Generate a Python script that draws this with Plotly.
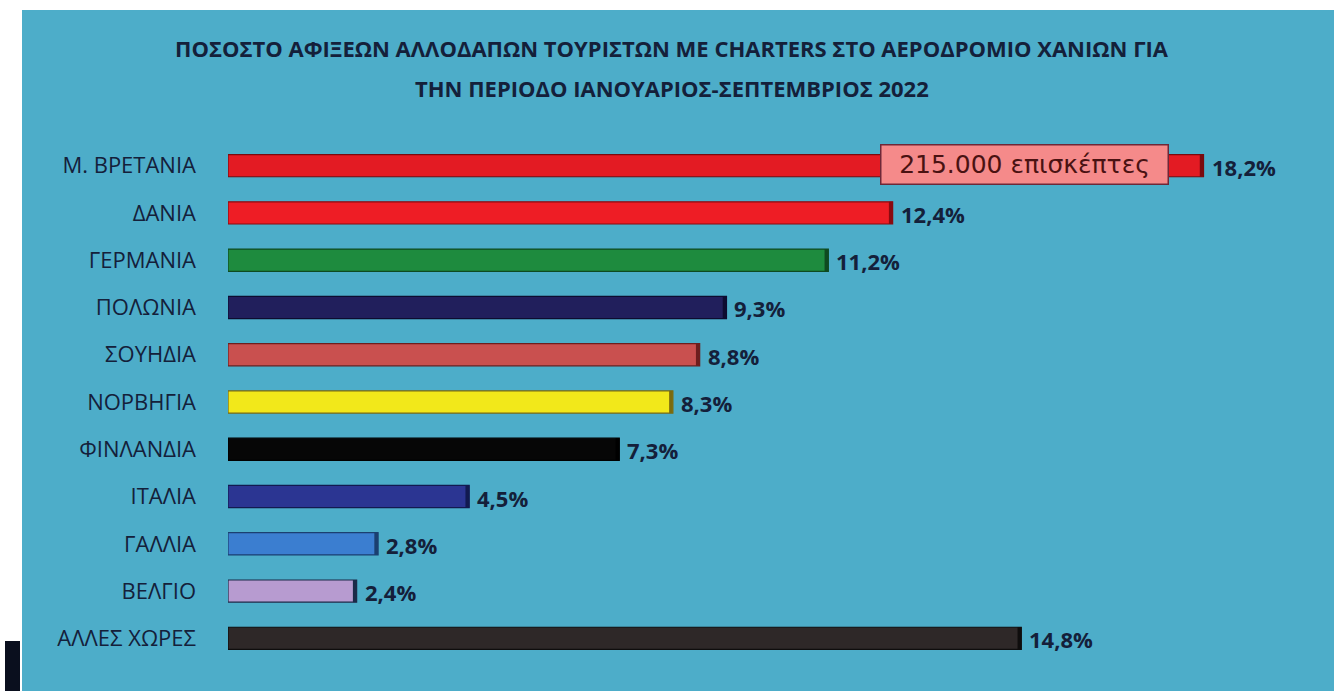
import plotly.graph_objects as go

categories = ["Μ. ΒΡΕΤΑΝΙΑ", "ΔΑΝΙΑ", "ΓΕΡΜΑΝΙΑ", "ΠΟΛΩΝΙΑ", "ΣΟΥΗΔΙΑ", "ΝΟΡΒΗΓΙΑ",
              "ΦΙΝΛΑΝΔΙΑ", "ΙΤΑΛΙΑ", "ΓΑΛΛΙΑ", "ΒΕΛΓΙΟ", "ΑΛΛΕΣ ΧΩΡΕΣ"]
values = [18.2, 12.4, 11.2, 9.3, 8.8, 8.3, 7.3, 4.5, 2.8, 2.4, 14.8]
colors = ["#E31B23", "#EE1D25", "#1E8B3E", "#211F5C", "#C9504F", "#F2E81A",
          "#060606", "#2B3592", "#3B7ED0", "#B79BD0", "#2E2828"]
edge_colors = ["#7A0A0E", "#8A0A10", "#0E4A20", "#0D0C30", "#6E1E1E", "#7A6A10",
               "#000000", "#121A50", "#1B3F70", "#1B2A48", "#0F0D0D"]
title_lines = ["ΠΟΣΟΣΤΟ ΑΦΙΞΕΩΝ ΑΛΛΟΔΑΠΩΝ ΤΟΥΡΙΣΤΩΝ ΜΕ CHARTERS ΣΤΟ ΑΕΡΟΔΡΟΜΙΟ ΧΑΝΙΩΝ ΓΙΑ",
               "ΤΗΝ ΠΕΡΙΟΔΟ ΙΑΝΟΥΑΡΙΟΣ-ΣΕΠΤΕΜΒΡΙΟΣ 2022"]
callout_text = "215.000 επισκέπτες"
callout_category = "Μ. ΒΡΕΤΑΝΙΑ"

W, H = 1334, 691
ML, MR, MT, MB = 228, 106, 142, 29
PW, PH = W - ML - MR, H - MT - MB
XMAX = PW / 53.6
TEAL = "#4DADC9"
TXT = "#14203A"

def px_x(px):
    return (px - ML) / PW

def px_y(py):
    return (H - MB - py) / PH

labels = [f"{v:.1f}%".replace(".", ",") for v in values]

fig = go.Figure()
fig.add_trace(go.Bar(
    y=categories, x=values, orientation="h",
    marker=dict(color=colors, line=dict(color=edge_colors, width=1.2)),
    width=0.47, hoverinfo="skip", showlegend=False,
))
# dark right-end cap (3D look)
cap = [0.07] * len(values)
fig.add_trace(go.Bar(
    y=categories, x=cap, base=[v - c for v, c in zip(values, cap)], orientation="h",
    marker=dict(color=edge_colors, line=dict(width=0)),
    width=0.47, hoverinfo="skip", showlegend=False,
))

annotations = []
for c, v, t in zip(categories, values, labels):
    annotations.append(dict(x=v, y=c, xref="x", yref="y", text=t, showarrow=False,
                            xanchor="left", xshift=6, yshift=-1,
                            font=dict(family="Open Sans", size=22, color=TXT, weight="bold")))

annotations.append(dict(x=14.86, y=callout_category, xref="x", yref="y", text=callout_text,
                        showarrow=False, xanchor="center", yshift=1, width=280, height=32,
                        font=dict(family="DejaVu Sans", size=25, color="#4A1212"),
                        bgcolor="#F58A8A", bordercolor="#6E2838", borderwidth=1.5, borderpad=3))

for i, line in enumerate(title_lines):
    annotations.append(dict(x=px_x(672), y=px_y(48 + 40 * i), xref="paper", yref="paper",
                            text=line, showarrow=False, xanchor="center", yanchor="middle",
                            font=dict(family="Open Sans", size=22, color=TXT, weight="bold")))

shapes = [
    dict(type="rect", xref="paper", yref="paper", x0=px_x(-5), x1=px_x(W + 5),
         y0=px_y(10), y1=px_y(-5), fillcolor="white", line=dict(width=0), layer="below"),
    dict(type="rect", xref="paper", yref="paper", x0=px_x(-5), x1=px_x(22),
         y0=px_y(H + 5), y1=px_y(-5), fillcolor="white", line=dict(width=0), layer="below"),
    dict(type="rect", xref="paper", yref="paper", x0=px_x(5), x1=px_x(20),
         y0=px_y(H + 5), y1=px_y(641), fillcolor="#0A0F1E", line=dict(width=0), layer="below"),
]

fig.update_layout(
    width=W, height=H,
    margin=dict(l=ML, r=MR, t=MT, b=MB, pad=0),
    paper_bgcolor=TEAL, plot_bgcolor=TEAL,
    barmode="overlay",
    xaxis=dict(range=[0, XMAX], visible=False, showgrid=False, zeroline=False),
    yaxis=dict(autorange="reversed", showgrid=False, zeroline=False, showline=False,
               ticks="", ticklabelstandoff=31,
               tickfont=dict(family="Open Sans", size=22, color=TXT)),
    annotations=annotations, shapes=shapes,
)

css_js = (
    "var s=document.createElement('style');"
    "s.textContent='html,body{margin:0;padding:0;overflow:hidden;scrollbar-width:none;background:"
    + TEAL + ";}::-webkit-scrollbar{display:none;width:0;height:0;}';"
    "document.head.appendChild(s);"
)
fig.write_html("out.html", config={"displayModeBar": False}, post_script=css_js)
